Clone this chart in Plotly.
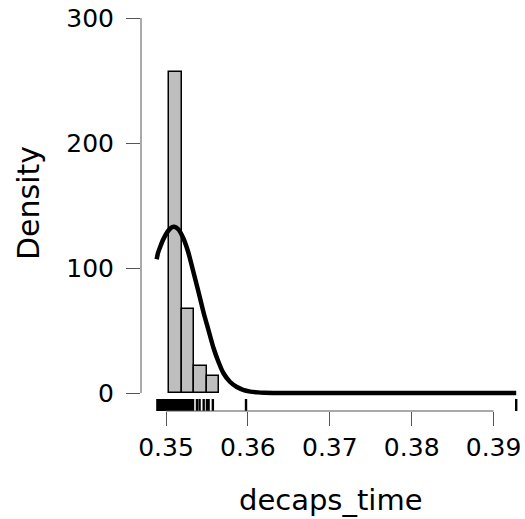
import plotly.graph_objects as go

# Histogram (density) bars
bin_centers = [0.351135, 0.352665, 0.354195, 0.355725]
bin_width = 0.00153
bin_density = [257, 67, 22, 14]

# Density curve
curve_x = [0.34886, 0.34902, 0.3493, 0.3496, 0.3500, 0.3503, 0.3507, 0.3510, 0.3515,
           0.3521, 0.3527, 0.3533, 0.3540, 0.3546, 0.3552, 0.3558, 0.3564, 0.3570,
           0.3578, 0.3586, 0.3594, 0.3603, 0.3612, 0.3620, 0.3640, 0.3700, 0.3800, 0.39276]
curve_y = [107, 112, 117, 122, 127, 130, 132.5, 133, 131,
           124, 113, 98, 80, 64, 50, 36, 25, 16,
           9, 5, 2.5, 1.1, 0.5, 0.2, 0, 0, 0, 0]

# Rug observations
rug_x = [0.34895, 0.3491, 0.34925, 0.3494, 0.34955, 0.3497, 0.34985, 0.35,
         0.35015, 0.3503, 0.35045, 0.3506, 0.35075, 0.3509, 0.35105, 0.3512,
         0.35135, 0.3515, 0.35165, 0.3518, 0.35195, 0.3521, 0.35225, 0.3524,
         0.35255, 0.3527, 0.35285, 0.353, 0.35315, 0.3533, 0.35378, 0.3541,
         0.3546, 0.3550, 0.3552, 0.35572, 0.35977, 0.39276]

x_ticks = [0.35, 0.36, 0.37, 0.38, 0.39]
x_ticklabels = ["0.35", "0.36", "0.37", "0.38", "0.39"]
y_ticks = [0, 100, 200, 300]
y_ticklabels = ["0", "100", "200", "300"]

fig = go.Figure()
fig.add_trace(go.Bar(x=bin_centers, y=bin_density, width=[bin_width] * len(bin_centers),
                     marker=dict(color="#bebebe", line=dict(color="black", width=1.5)),
                     showlegend=False, hoverinfo="skip"))
fig.add_trace(go.Scatter(x=curve_x, y=curve_y, mode="lines",
                         line=dict(color="black", width=4.5, shape="spline", smoothing=0.6),
                         showlegend=False, hoverinfo="skip"))
rx, ry = [], []
for v in rug_x:
    rx += [v, v, None]
    ry += [-4.8, -14.4, None]
fig.add_trace(go.Scatter(x=rx, y=ry, mode="lines", line=dict(color="black", width=2.4),
                         showlegend=False, hoverinfo="skip"))

axis_col = "#555555"
tickfont = dict(family="DejaVu Sans", size=25, color="black")
fig.update_layout(
    width=525, height=519,
    margin=dict(l=141, r=5, t=10, b=108),
    paper_bgcolor="white", plot_bgcolor="white",
    bargap=0,
    xaxis=dict(range=[0.346947, 0.393223], tickvals=x_ticks, ticktext=x_ticklabels,
               ticks="outside", ticklen=14, tickcolor=axis_col, tickwidth=1,
               showline=False, showgrid=False, zeroline=False, tickfont=tickfont,
               ticklabelstandoff=0),
    yaxis=dict(range=[-14.4, 306.4], tickvals=y_ticks, ticktext=y_ticklabels,
               ticks="outside", ticklen=14, tickcolor=axis_col, tickwidth=1,
               showline=False, showgrid=False, zeroline=False, tickfont=tickfont,
               ticklabelstandoff=7),
    shapes=[
        dict(type="line", xref="x", yref="paper", x0=0.35, x1=0.39, y0=0, y1=0,
             line=dict(color=axis_col, width=1)),
        dict(type="line", xref="paper", yref="y", x0=0, x1=0, y0=0, y1=300,
             line=dict(color=axis_col, width=1)),
    ],
    annotations=[
        dict(text="decaps_time", xref="paper", yref="paper", x=0.5, y=-0.222,
             xanchor="center", yanchor="middle", showarrow=False,
             font=dict(family="DejaVu Sans", size=29, color="black")),
        dict(text="Density", xref="paper", yref="y", x=-0.298, y=152, textangle=-90,
             xanchor="center", yanchor="middle", showarrow=False,
             font=dict(family="DejaVu Sans", size=30, color="black")),
    ],
)
fig.write_html("out.html")
